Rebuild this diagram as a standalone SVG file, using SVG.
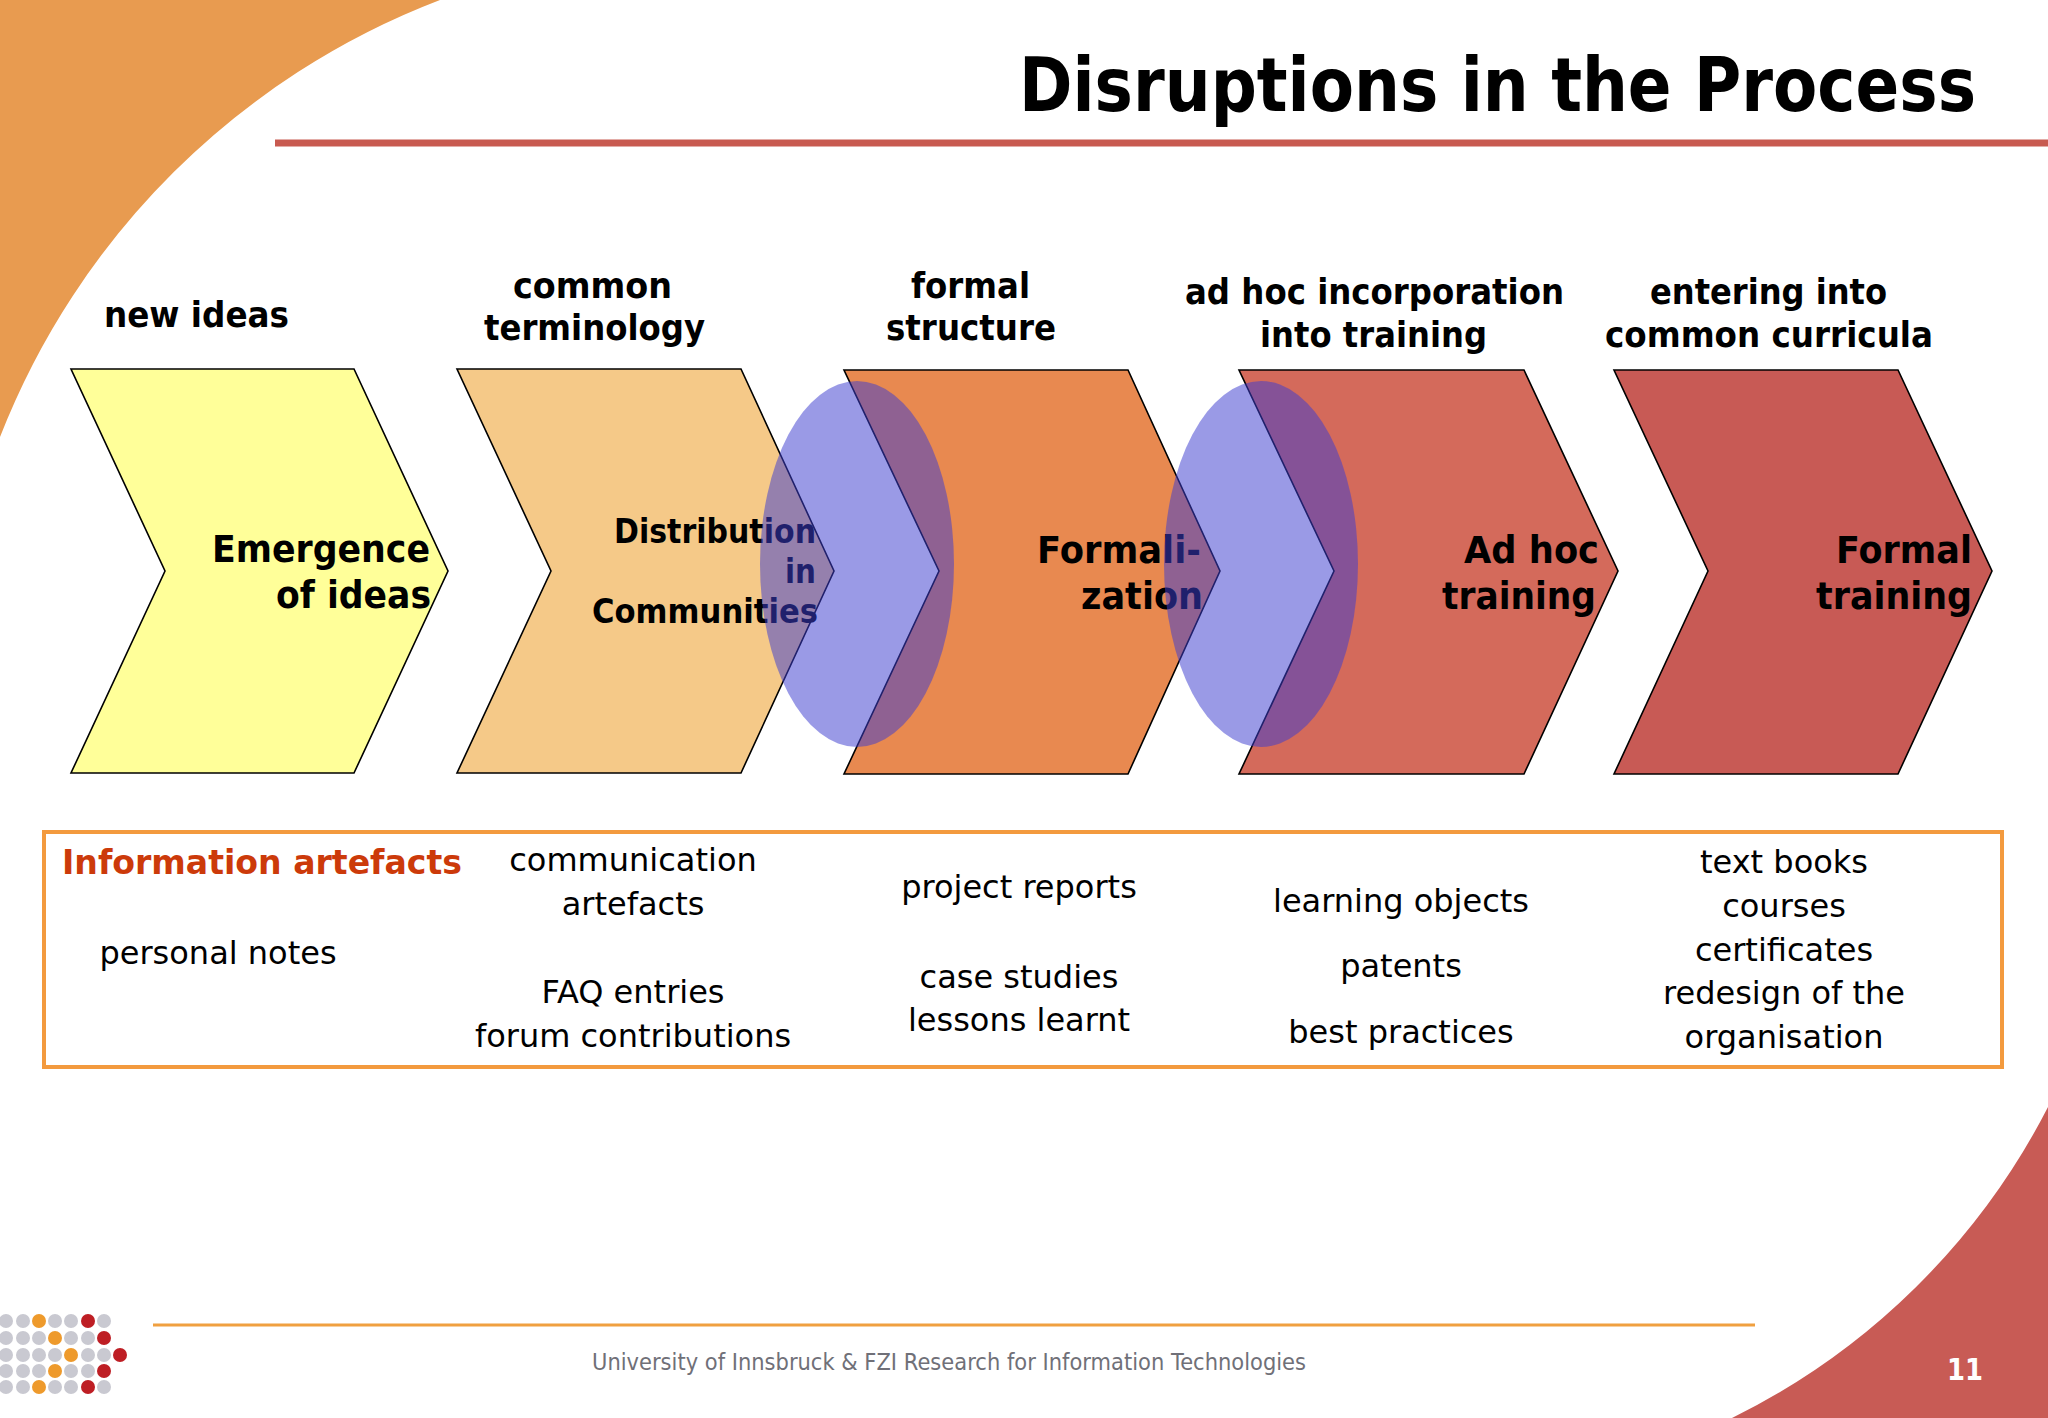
<svg xmlns="http://www.w3.org/2000/svg" width="2048" height="1418" viewBox="0 0 2048 1418">
<defs>
<style>
.b{font-family:"DejaVu Sans","Verdana",sans-serif;font-weight:bold;fill:#000}
.r{font-family:"DejaVu Sans","Verdana",sans-serif;fill:#000;font-size:32px;text-anchor:middle}
.hd{font-size:35px}
.cl{font-size:37px}
.chev{stroke:#000;stroke-width:1.6;stroke-linejoin:miter}
.ell{fill:#3E3ED0;fill-opacity:0.52}
.dg{fill:#C9C9D1}.do{fill:#EE9A2C}.dr{fill:#BE1E24}
</style>
</defs>
<rect width="2048" height="1418" fill="#fff"/>
<g id="background">
<path d="M0,0 L440,0 A766,766 0 0,0 0,437 Z" fill="#E89B50"/>
<path d="M2048,1107 A706,706 0 0,1 1732,1418 L2048,1418 Z" fill="#C85B55"/>
<rect x="275" y="139.5" width="1773" height="7" fill="#C85A50"/>
<rect x="153" y="1323.5" width="1602" height="3" fill="#F0A040"/>
</g>
<g id="title">
<text class="b" transform="translate(1019,111) scale(0.8716,1)" x="0" y="0" font-size="74" textLength="1098" lengthAdjust="spacingAndGlyphs">Disruptions in the Process</text>
</g>
<g id="headers" class="b hd">
<text x="104" y="327" textLength="185" lengthAdjust="spacingAndGlyphs">new ideas</text>
<text x="513" y="298" textLength="159" lengthAdjust="spacingAndGlyphs">common</text>
<text x="484" y="340" textLength="221" lengthAdjust="spacingAndGlyphs">terminology</text>
<text x="911" y="298" textLength="119" lengthAdjust="spacingAndGlyphs">formal</text>
<text x="886" y="340" textLength="170" lengthAdjust="spacingAndGlyphs">structure</text>
<text x="1185" y="304" textLength="379" lengthAdjust="spacingAndGlyphs">ad hoc incorporation</text>
<text x="1260" y="347" textLength="227" lengthAdjust="spacingAndGlyphs">into training</text>
<text x="1650" y="304" textLength="237" lengthAdjust="spacingAndGlyphs">entering into</text>
<text x="1605" y="347" textLength="328" lengthAdjust="spacingAndGlyphs">common curricula</text>
</g>
<g id="node-emergence">
<polygon class="chev" fill="#FFFF99" points="71,369 354,369 448,571 354,773 71,773 165,571"/>
<text class="b cl" x="212" y="562" textLength="218" lengthAdjust="spacingAndGlyphs">Emergence</text>
<text class="b cl" x="276" y="608" textLength="155" lengthAdjust="spacingAndGlyphs">of ideas</text>
</g>
<g id="node-distribution">
<polygon class="chev" fill="#F5C988" points="457,369 741,369 834,571 741,773 457,773 551,571"/>
<text class="b" font-size="33" x="614" y="543" textLength="202" lengthAdjust="spacingAndGlyphs">Distribution</text>
<text class="b" font-size="33" x="785" y="583" textLength="31" lengthAdjust="spacingAndGlyphs">in</text>
<text class="b" font-size="33" x="592" y="623" textLength="226" lengthAdjust="spacingAndGlyphs">Communities</text>
</g>
<g id="node-formalization">
<polygon class="chev" fill="#E88950" points="844,370 1128,370 1220,571 1128,774 844,774 939,571"/>
<text class="b cl" x="1037" y="563" textLength="164" lengthAdjust="spacingAndGlyphs">Formali-</text>
<text class="b cl" x="1081" y="609" textLength="122" lengthAdjust="spacingAndGlyphs">zation</text>
</g>
<g id="node-adhoc">
<polygon class="chev" fill="#D46A5B" points="1239,370 1524,370 1618,571 1524,774 1239,774 1334,571"/>
<text class="b cl" x="1464" y="563" textLength="135" lengthAdjust="spacingAndGlyphs">Ad hoc</text>
<text class="b cl" x="1442" y="609" textLength="154" lengthAdjust="spacingAndGlyphs">training</text>
</g>
<g id="node-formal">
<polygon class="chev" fill="#C85A55" points="1614,370 1898,370 1992,571 1898,774 1614,774 1708,571"/>
<text class="b cl" x="1836" y="563" textLength="136" lengthAdjust="spacingAndGlyphs">Formal</text>
<text class="b cl" x="1816" y="609" textLength="156" lengthAdjust="spacingAndGlyphs">training</text>
</g>
<g id="disruption-1">
<ellipse class="ell" cx="857" cy="564" rx="97" ry="183"/>
</g>
<g id="disruption-2">
<ellipse class="ell" cx="1261" cy="564" rx="97" ry="183"/>
</g>
<g id="connectors"/>
<g id="artefacts">
<rect x="44" y="832" width="1958" height="235" fill="none" stroke="#F39A3E" stroke-width="4"/>
<text class="b" font-size="34" x="62" y="874" style="fill:#CC3A0A" textLength="400" lengthAdjust="spacingAndGlyphs">Information artefacts</text>
<text class="r" x="218" y="964">personal notes</text>
<text class="r" x="633" y="871">communication</text>
<text class="r" x="633" y="915">artefacts</text>
<text class="r" x="633" y="1003">FAQ entries</text>
<text class="r" x="633" y="1047">forum contributions</text>
<text class="r" x="1019" y="898">project reports</text>
<text class="r" x="1019" y="988">case studies</text>
<text class="r" x="1019" y="1031">lessons learnt</text>
<text class="r" x="1401" y="912">learning objects</text>
<text class="r" x="1401" y="977">patents</text>
<text class="r" x="1401" y="1043">best practices</text>
<text class="r" x="1784" y="873">text books</text>
<text class="r" x="1784" y="917">courses</text>
<text class="r" x="1784" y="961">certificates</text>
<text class="r" x="1784" y="1004">redesign of the</text>
<text class="r" x="1784" y="1048">organisation</text>
</g>
<g id="footer">
<text x="592" y="1370" font-family="DejaVu Sans, Verdana, sans-serif" font-size="23" fill="#707078" textLength="714" lengthAdjust="spacingAndGlyphs">University of Innsbruck &amp; FZI Research for Information Technologies</text>
<text x="1947" y="1380" font-family="DejaVu Sans, Verdana, sans-serif" font-weight="bold" font-size="30" fill="#fff" textLength="36" lengthAdjust="spacingAndGlyphs">11</text>
</g>
<g id="logo">
<circle class="dg" cx="6" cy="1321" r="7"/><circle class="dg" cx="23" cy="1321" r="7"/><circle class="do" cx="39" cy="1321" r="7"/><circle class="dg" cx="55" cy="1321" r="7"/><circle class="dg" cx="71" cy="1321" r="7"/><circle class="dr" cx="88" cy="1321" r="7"/><circle class="dg" cx="104" cy="1321" r="7"/>
<circle class="dg" cx="6" cy="1338" r="7"/><circle class="dg" cx="23" cy="1338" r="7"/><circle class="dg" cx="39" cy="1338" r="7"/><circle class="do" cx="55" cy="1338" r="7"/><circle class="dg" cx="71" cy="1338" r="7"/><circle class="dg" cx="88" cy="1338" r="7"/><circle class="dr" cx="104" cy="1338" r="7"/>
<circle class="dg" cx="6" cy="1355" r="7"/><circle class="dg" cx="23" cy="1355" r="7"/><circle class="dg" cx="39" cy="1355" r="7"/><circle class="dg" cx="55" cy="1355" r="7"/><circle class="do" cx="71" cy="1355" r="7"/><circle class="dg" cx="88" cy="1355" r="7"/><circle class="dg" cx="104" cy="1355" r="7"/><circle class="dr" cx="120" cy="1355" r="7"/>
<circle class="dg" cx="6" cy="1371" r="7"/><circle class="dg" cx="23" cy="1371" r="7"/><circle class="dg" cx="39" cy="1371" r="7"/><circle class="do" cx="55" cy="1371" r="7"/><circle class="dg" cx="71" cy="1371" r="7"/><circle class="dg" cx="88" cy="1371" r="7"/><circle class="dr" cx="104" cy="1371" r="7"/>
<circle class="dg" cx="6" cy="1387" r="7"/><circle class="dg" cx="23" cy="1387" r="7"/><circle class="do" cx="39" cy="1387" r="7"/><circle class="dg" cx="55" cy="1387" r="7"/><circle class="dg" cx="71" cy="1387" r="7"/><circle class="dr" cx="88" cy="1387" r="7"/><circle class="dg" cx="104" cy="1387" r="7"/>
</g>
</svg>
